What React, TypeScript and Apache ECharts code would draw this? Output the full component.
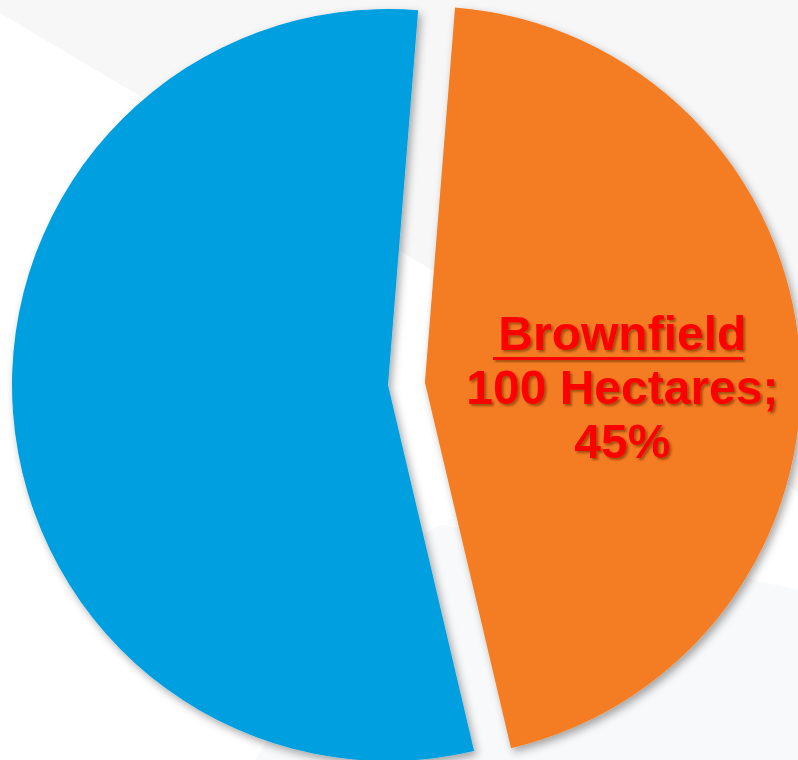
import React, { useEffect, useRef } from "react";
import * as echarts from "echarts";

const categories = ["Brownfield", "Greenfield"];
const hectares = [100, 122];
const unitLabel = "Hectares";
const sliceColors = ["#F47C22", "#009FE0"];

export default function App() {
  const ref = useRef<HTMLDivElement>(null);
  useEffect(() => {
    document.body.style.margin = "0";
    const chart = echarts.init(ref.current!, null, { renderer: "svg" });
    const labelShadow = {
      textShadowColor: "rgba(90,40,0,0.55)",
      textShadowBlur: 2,
      textShadowOffsetX: 2,
      textShadowOffsetY: 2,
    };
    chart.setOption({
      animation: false,
      backgroundColor: "#FFFFFF",
      graphic: [
        {
          type: "polygon",
          z: 0,
          shape: { points: [[0, 0], [600, 0], [600, 370], [0, 13]] },
          style: { fill: "#F7F7F7" },
        },
        {
          type: "polygon",
          z: 0,
          shape: { points: [[597, 0], [798, 0], [798, 493], [560, 300]] },
          style: { fill: "#F7F7F8" },
        },
        {
          type: "polygon",
          z: 0,
          shape: {
            points: [[255, 760], [798, 760], [798, 590], [600, 545], [440, 525], [380, 560]],
          },
          style: { fill: "#F8F9FA" },
        },
        {
          type: "rect",
          z: 100,
          shape: { x: 493, y: 357, width: 250, height: 3 },
          style: {
            fill: "#FF0000",
            shadowColor: "rgba(90,40,0,0.55)",
            shadowBlur: 2,
            shadowOffsetX: 2,
            shadowOffsetY: 2,
          },
        },
      ],
      series: [
        {
          type: "pie",
          center: [388, 385],
          radius: 376,
          startAngle: 85.4,
          clockwise: true,
          selectedMode: "single",
          selectedOffset: 37,
          percentPrecision: 0,
          emphasis: { disabled: true },
          labelLine: { show: false },
          itemStyle: {
            shadowColor: "rgba(0,0,0,0.35)",
            shadowBlur: 8,
            shadowOffsetX: 3,
            shadowOffsetY: 4,
          },
          label: {
            show: true,
            position: "inside",
            padding: [40, 0, 0, 14],
            align: "center",
            formatter: (p: any) =>
              `{t|${p.name}}\n{v|${p.value} ${unitLabel};}\n{v|${p.percent}%}`,
            rich: {
              t: {
                fontFamily: "Liberation Sans, Arial, sans-serif",
                fontWeight: "bold",
                fontSize: 48,
                lineHeight: 54,
                color: "#FF0000",
                align: "center",
                ...labelShadow,
              },
              v: {
                fontFamily: "Liberation Sans, Arial, sans-serif",
                fontWeight: "bold",
                fontSize: 48,
                lineHeight: 54,
                color: "#FF0000",
                align: "center",
                ...labelShadow,
              },
            },
          },
          data: categories.map((c, i) => ({
            name: c,
            value: hectares[i],
            selected: i === 0,
            itemStyle: { color: sliceColors[i] },
            label: { show: i === 0 },
          })),
        },
      ],
    });
    return () => chart.dispose();
  }, []);
  return (
    <div
      ref={ref}
      style={{ position: "absolute", left: 0, top: 0, width: 798, height: 760 }}
    />
  );
}
